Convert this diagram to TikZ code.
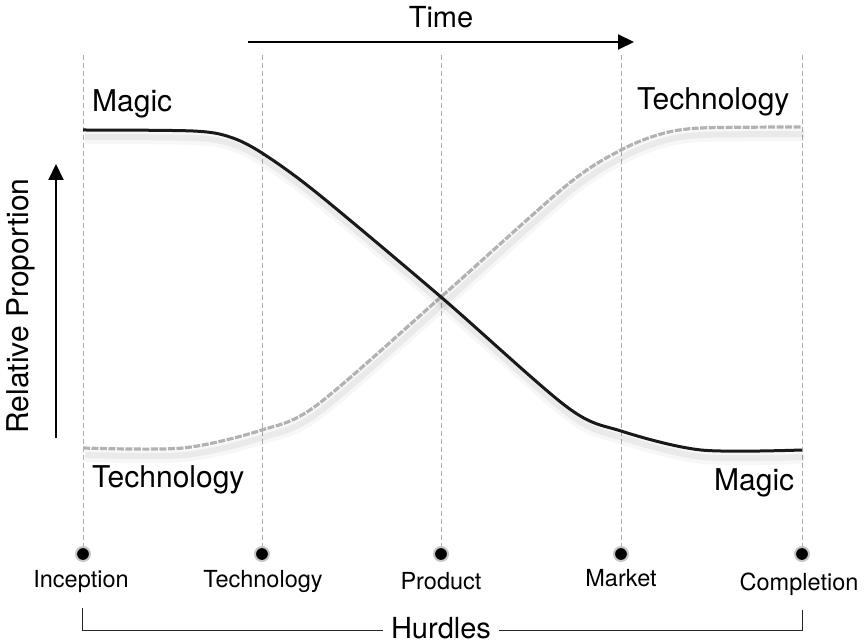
\documentclass[tikz,border=0pt]{standalone}
\usepackage{fontspec}
\setmainfont{TeX Gyre Heros}
\usetikzlibrary{arrows.meta}

\begin{document}
\begin{tikzpicture}
  [x=1pt,y=-1pt,
   dot/.style={circle,fill=black,draw=gray!45,line width=2pt,inner sep=0pt,minimum size=14pt},
   guide/.style={gray!65,line width=0.8pt,dash pattern=on 5pt off 3pt},
   big/.style={font=\fontsize{30}{36}\selectfont,inner sep=0pt},
   small/.style={font=\fontsize{23.5}{28}\selectfont,inner sep=0pt,anchor=base},
   axis/.style={line width=2pt,-{Triangle[length=16pt,width=15pt]}},
   glow/.style={preaction={draw=black,solid,opacity=.03,line width=12pt,transform canvas={shift={(2,8)}}},
                preaction={draw=black,solid,opacity=.05,line width=6pt,transform canvas={shift={(2,7)}}}}]
  \useasboundingbox (0,0) rectangle (868,644);

  \coordinate (t1) at (83,55);
  \coordinate (t2) at (262,55);
  \coordinate (t3) at (441,55);
  \coordinate (t4) at (621,55);
  \coordinate (t5) at (802,55);

  \node[dot] (h1) at (83,554) {};
  \node[dot] (h2) at (262,554) {};
  \node[dot] (h3) at (441,554) {};
  \node[dot] (h4) at (621,554) {};
  \node[dot] (h5) at (802,554) {};

  \draw[guide] (t1) -- (h1);
  \draw[guide] (t2) -- (h2);
  \draw[guide] (t3) -- (h3);
  \draw[guide] (t4) -- (h4);
  \draw[guide] (t5) -- (h5);

  \node[small] (l1) at (81,587) {Inception};
  \node[small] (l2) at (263,587) {Technology};
  \node[small] (l3) at (441,589) {Product};
  \node[small] (l4) at (621,586) {Market};
  \node[small] (l5) at (799,590) {Completion};

  \draw[glow,gray!60,line width=3.2pt,dash pattern=on 7pt off 1.5pt]
    plot[smooth,tension=.5] coordinates {(83,448) (183,448) (262,430) (317,405) (441,297) (567,185) (621,150) (661,134) (701,128) (802,127)};
  \draw[glow,black!90,line width=3pt]
    plot[smooth,tension=.5] coordinates {(83,130) (193,131) (230,137) (262,153) (317,193) (441,297) (567,407) (621,431) (701,450) (802,450)};

  \node[big,anchor=base west] (m1) at (92,112) {Magic};
  \node[big,anchor=base west] (c1) at (92,487) {Technology};
  \node[big,anchor=base west] (c2) at (637,110) {Technology};
  \node[big,anchor=base west] (m2) at (714,490) {Magic};

  \node[big,font=\fontsize{29}{34}\selectfont] (time) at (441,17) {Time};
  \coordinate (ts) at (248,42);
  \coordinate (te) at (634,42);
  \draw[axis] (ts) -- (te);

  \node[big,rotate=90] (rel) at (21,306) {Relative Proportion};
  \coordinate (ps) at (56,438);
  \coordinate (pe) at (56,164);
  \draw[axis] (ps) -- (pe);

  \node[big,font=\fontsize{29}{34}\selectfont,fill=white,inner xsep=8pt] (hurd) at (441,628) {Hurdles};
  \coordinate (b1) at (82,608);
  \coordinate (b2) at (82,630);
  \coordinate (b3) at (802,630);
  \coordinate (b4) at (802,610);
  \draw[gray!30!black,line width=1pt] (b1) -- (b2) -- (hurd.west |- b2);
  \draw[gray!30!black,line width=1pt] (hurd.east |- b3) -- (b3) -- (b4);
\end{tikzpicture}
\end{document}
